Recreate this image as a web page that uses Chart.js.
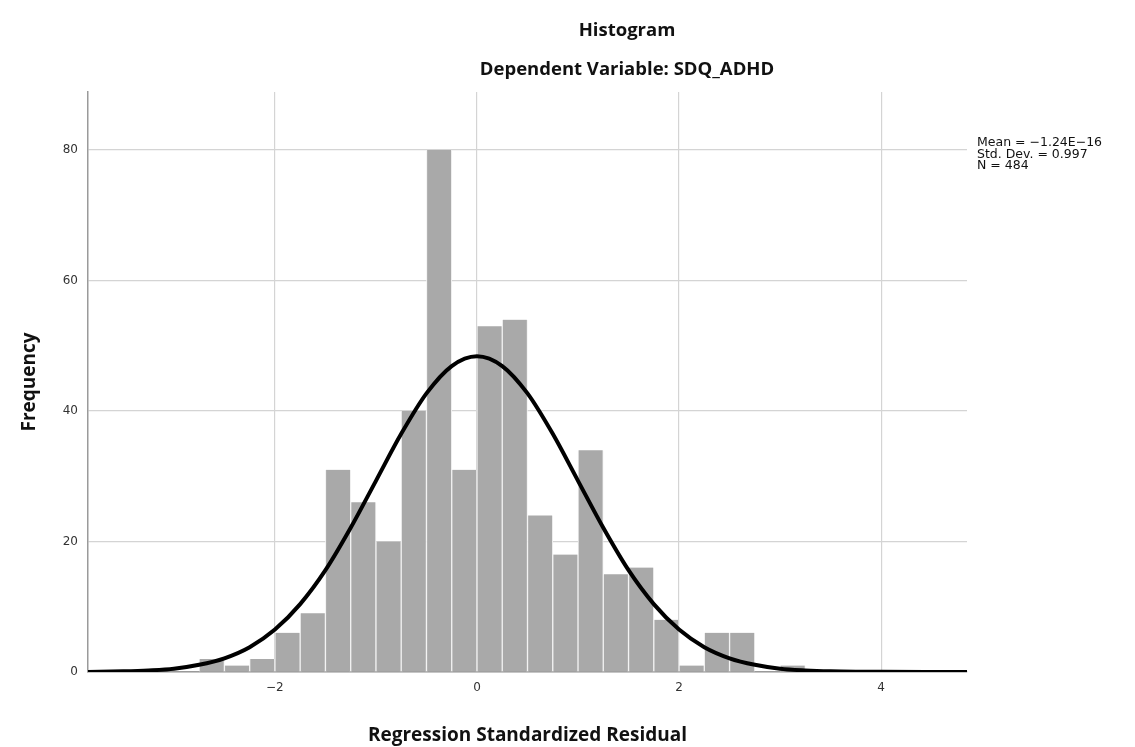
<!DOCTYPE html>
<html>
<head>
<meta charset="utf-8">
<script src="https://cdn.jsdelivr.net/npm/chart.js@4.4.0/dist/chart.umd.min.js"></script>
<style>
  html, body { margin: 0; padding: 0; background: #ffffff; }
  #wrap { position: relative; width: 1135px; height: 747px; }
  #c { position: absolute; left: 0; top: 0; }
  .ttl { position: absolute; font-family: "Open Sans", sans-serif; font-weight: bold; color: #111; white-space: nowrap; transform: translateX(-50%); }
  #stats { position: absolute; left: 977px; top: 136px; font-family: "DejaVu Sans", sans-serif; font-size: 12.5px; line-height: 11.5px; color: #111; white-space: nowrap; }
</style>
</head>
<body>
<div id="wrap">
  <canvas id="c" width="1135" height="747"></canvas>
  <div class="ttl" style="left:627px; top:16px; font-size:18.5px;">Histogram</div>
  <div class="ttl" style="left:627px; top:55px; font-size:18.5px;">Dependent Variable: SDQ_ADHD</div>
  <div id="stats">Mean = −1.24E−16<br>Std. Dev. = 0.997<br>N = 484</div>
</div>
<script>
// Histogram bins (centres, width 0.25) and frequencies
const binCenters = [-2.625, -2.375, -2.125, -1.875, -1.625, -1.375, -1.125, -0.875, -0.625, -0.375, -0.125,
                    0.125, 0.375, 0.625, 0.875, 1.125, 1.375, 1.625, 1.875, 2.125, 2.375, 2.625, 2.875, 3.125];
const frequencies = [2, 1, 2, 6, 9, 31, 26, 20, 40, 80, 31,
                     53, 54, 24, 18, 34, 15, 16, 8, 1, 6, 6, 0, 1];

// Normal curve
const curveX = [-3.85, -3.5, -3.25, -3.0, -2.75, -2.5, -2.25, -2.0, -1.75, -1.5, -1.25, -1.0, -0.75, -0.5, -0.25,
                0, 0.25, 0.5, 0.75, 1.0, 1.25, 1.5, 1.75, 2.0, 2.25, 2.5, 2.75, 3.0, 3.25, 3.5, 3.75, 4.0, 4.5, 4.85];
const curveY = [0.0, 0.1, 0.24, 0.5, 1.1, 2.1, 3.8, 6.5, 10.4, 15.6, 22.1, 29.3, 36.5, 42.7, 46.9,
                48.4, 46.9, 42.7, 36.5, 29.3, 22.1, 15.6, 10.4, 6.5, 3.8, 2.1, 1.1, 0.5, 0.24, 0.1, 0.04, 0.02, 0.0, 0.0];

const xTickValues = [-2, 0, 2, 4];
const xTickLabels = ["−2", "0", "2", "4"];
const yTickValues = [0, 20, 40, 60, 80];

const barData = binCenters.map((x, i) => ({x: x, y: frequencies[i]}));
const lineData = curveX.map((x, i) => ({x: x, y: curveY[i]}));

new Chart(document.getElementById('c'), {
  type: 'bar',
  data: {
    datasets: [
      {
        type: 'line',
        data: lineData,
        borderColor: '#000000',
        borderWidth: 4,
        pointRadius: 0,
        cubicInterpolationMode: 'monotone',
        fill: false,
        order: 0
      },
      {
        type: 'bar',
        data: barData,
        backgroundColor: '#a9a9a9',
        borderColor: '#f2f2f2',
        borderWidth: {left: 1, right: 1, top: 0, bottom: 0},
        borderSkipped: false,
        barPercentage: 1.0,
        categoryPercentage: 1.0,
        order: 1
      }
    ]
  },
  options: {
    responsive: false,
    animation: false,
    events: [],
    layout: { padding: { left: 18, right: 168, top: 92, bottom: 0 } },
    plugins: { legend: { display: false }, tooltip: { enabled: false } },
    scales: {
      x: {
        type: 'linear',
        min: -3.85,
        max: 4.85,
        offset: false,
        grid: { color: '#d4d4d4', lineWidth: 1.2, drawTicks: false, offset: false },
        border: { display: true, color: '#9a9a9a', width: 1.5 },
        afterBuildTicks: (s) => { s.ticks = xTickValues.map(v => ({value: v})); },
        ticks: {
          padding: 9,
          color: '#333333',
          font: { family: 'DejaVu Sans', size: 12 },
          callback: (v) => { const i = xTickValues.indexOf(v); return i >= 0 ? xTickLabels[i] : ''; }
        },
        title: {
          display: true,
          text: 'Regression Standardized Residual',
          color: '#111111',
          font: { family: 'Open Sans', size: 19, weight: 'bold' },
          padding: { top: 14, bottom: 0 }
        },
        afterFit: (s) => { s.height = 75; }
      },
      y: {
        type: 'linear',
        min: 0,
        max: 88.9,
        grid: { color: '#d4d4d4', lineWidth: 1.2, drawTicks: false },
        border: { display: true, color: '#9a9a9a', width: 1.5 },
        afterBuildTicks: (s) => { s.ticks = yTickValues.map(v => ({value: v})); },
        ticks: {
          padding: 10,
          color: '#333333',
          font: { family: 'DejaVu Sans', size: 12 }
        },
        title: {
          display: true,
          text: 'Frequency',
          color: '#111111',
          font: { family: 'Open Sans', size: 19, weight: 'bold' },
          padding: { top: 0, bottom: 0 }
        },
        afterFit: (s) => { s.width = 70; }
      }
    }
  }
});
</script>
</body>
</html>
